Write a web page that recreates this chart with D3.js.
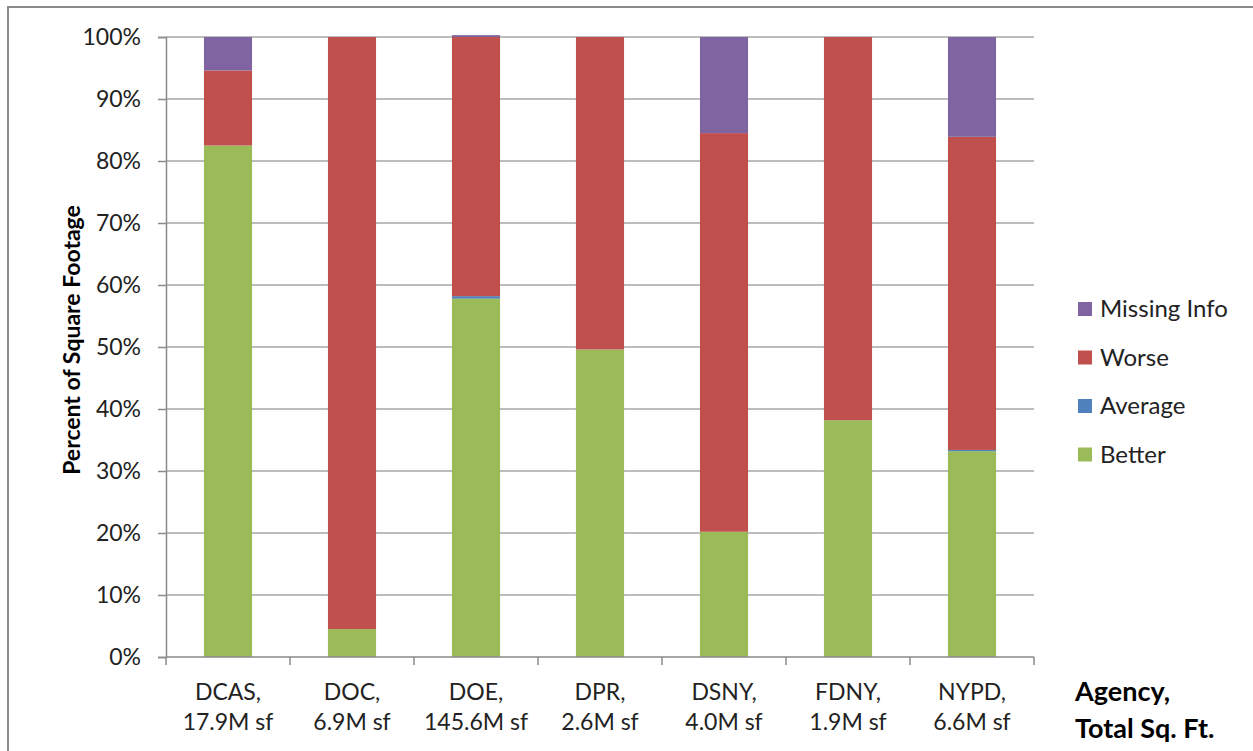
<!DOCTYPE html>
<html>
<head>
<meta charset="utf-8">
<script src="https://cdn.jsdelivr.net/npm/d3@7"></script>
<style>
  body { margin: 0; background: #fff; }
  svg { display: block; font-family: Lato, "Open Sans", sans-serif; }
</style>
</head>
<body>
<div class="container"></div>
<script>
// agency labels (two lines each)
var agencies = ["DCAS", "DOC", "DOE", "DPR", "DSNY", "FDNY", "NYPD"];
var sqft = ["17.9M sf", "6.9M sf", "145.6M sf", "2.6M sf", "4.0M sf", "1.9M sf", "6.6M sf"];

// percent of square footage
var better  = [82.5, 4.5, 57.8, 49.6, 20.2, 38.2, 33.2];
var average = [0.0, 0.0, 0.4, 0.0, 0.0, 0.0, 0.2];
var worse   = [12.1, 95.5, 41.8, 50.4, 64.3, 61.8, 50.5];
var missing = [5.4, 0.0, 0.3, 0.0, 15.5, 0.0, 16.1];

var seriesNames = ["Better", "Average", "Worse", "Missing Info"];
var seriesColors = ["#9BBB59", "#4F81BD", "#C0504D", "#8064A2"];
var yTicks = [0, 10, 20, 30, 40, 50, 60, 70, 80, 90, 100];

var width = 1253, height = 751;
var margin = {top: 37, right: 219, bottom: 94, left: 166};

var svg = d3.select("div.container").append("svg")
    .attr("width", width)
    .attr("height", height);

// outer chart border (cut off at right/bottom like the screenshot)
svg.append("rect")
    .attr("x", 8).attr("y", 7)
    .attr("width", width).attr("height", height)
    .attr("fill", "none")
    .attr("stroke", "#8a8a8a")
    .attr("stroke-width", 2);

var rows = agencies.map(function(a, i) {
  return {agency: a, sqft: sqft[i], "Better": better[i], "Average": average[i],
          "Worse": worse[i], "Missing Info": missing[i]};
});

var stack = d3.stack().keys(seriesNames)(rows);

var x = d3.scaleBand()
    .domain(agencies)
    .range([margin.left, width - margin.right])
    .paddingInner(0.612)
    .paddingOuter(0.306);

var y = d3.scaleLinear()
    .domain([0, 100])
    .range([height - margin.bottom, margin.top]);

var color = d3.scaleOrdinal().domain(seriesNames).range(seriesColors);

// gridlines
svg.append("g")
  .selectAll("line")
  .data(yTicks.slice(1))
  .enter().append("line")
    .attr("x1", margin.left).attr("x2", width - margin.right)
    .attr("y1", function(d) { return y(d); })
    .attr("y2", function(d) { return y(d); })
    .attr("stroke", "#a6a6a6")
    .attr("stroke-width", 1.5);

// bars
svg.append("g")
  .selectAll("g")
  .data(stack)
  .enter().append("g")
    .attr("fill", function(d) { return color(d.key); })
  .selectAll("rect")
  .data(function(d) { return d; })
  .enter().append("rect")
    .attr("x", function(d) { return x(d.data.agency); })
    .attr("width", x.bandwidth())
    .attr("y", function(d) { return y(d[1]); })
    .attr("height", function(d) { return y(d[0]) - y(d[1]); });

// y axis
var yAxis = svg.append("g")
    .attr("transform", "translate(" + margin.left + ",0)")
    .call(d3.axisLeft(y).tickValues(yTicks).tickSize(8).tickPadding(17)
      .tickFormat(function(d) { return d + "%"; }));
yAxis.select(".domain").attr("stroke", "#8a8a8a").attr("stroke-width", 1.5);
yAxis.selectAll(".tick line").attr("stroke", "#8a8a8a").attr("stroke-width", 1.5);
yAxis.selectAll(".tick text")
    .attr("font-family", "Lato, sans-serif")
    .attr("font-size", "23px")
    .attr("fill", "#222");

// x axis: line plus ticks between categories
var x0 = margin.left, x1 = width - margin.right;
var step = x.step();
svg.append("line")
    .attr("x1", x0).attr("x2", x1)
    .attr("y1", y(0)).attr("y2", y(0))
    .attr("stroke", "#8a8a8a").attr("stroke-width", 1.5);
svg.append("g")
  .selectAll("line")
  .data(d3.range(agencies.length + 1))
  .enter().append("line")
    .attr("x1", function(i) { return x0 + i * step; })
    .attr("x2", function(i) { return x0 + i * step; })
    .attr("y1", y(0)).attr("y2", y(0) + 8)
    .attr("stroke", "#8a8a8a").attr("stroke-width", 1.5);

var xl = svg.append("g")
  .selectAll("text")
  .data(rows)
  .enter().append("text")
    .attr("text-anchor", "middle")
    .attr("font-size", "23px")
    .attr("fill", "#222")
    .attr("transform", function(d) { return "translate(" + (x(d.agency) + x.bandwidth() / 2) + ",0)"; });
xl.append("tspan").attr("x", 0).attr("y", 700).text(function(d) { return d.agency + ","; });
xl.append("tspan").attr("x", 0).attr("y", 730).text(function(d) { return d.sqft; });

// axis titles
svg.append("text")
    .attr("transform", "translate(80,340) rotate(-90)")
    .attr("text-anchor", "middle")
    .attr("font-weight", "bold")
    .attr("font-size", "23px")
    .attr("fill", "#000")
    .text("Percent of Square Footage");

var xt = svg.append("text")
    .attr("font-weight", "bold")
    .attr("font-size", "27px")
    .attr("fill", "#000");
xt.append("tspan").attr("x", 1075).attr("y", 701).text("Agency,");
xt.append("tspan").attr("x", 1075).attr("y", 738).text("Total Sq. Ft.");

// legend (reverse order, top = Missing Info)
var legendItems = seriesNames.slice().reverse();
var legend = svg.append("g")
  .selectAll("g")
  .data(legendItems)
  .enter().append("g")
    .attr("transform", function(d, i) { return "translate(1078," + (309 + i * 48.5) + ")"; });
legend.append("rect")
    .attr("x", 0).attr("y", -7)
    .attr("width", 14).attr("height", 14)
    .attr("fill", function(d) { return color(d); });
legend.append("text")
    .attr("x", 22).attr("y", 0)
    .attr("dy", "0.35em")
    .attr("font-size", "24px")
    .attr("fill", "#222")
    .text(function(d) { return d; });
</script>
</body>
</html>
